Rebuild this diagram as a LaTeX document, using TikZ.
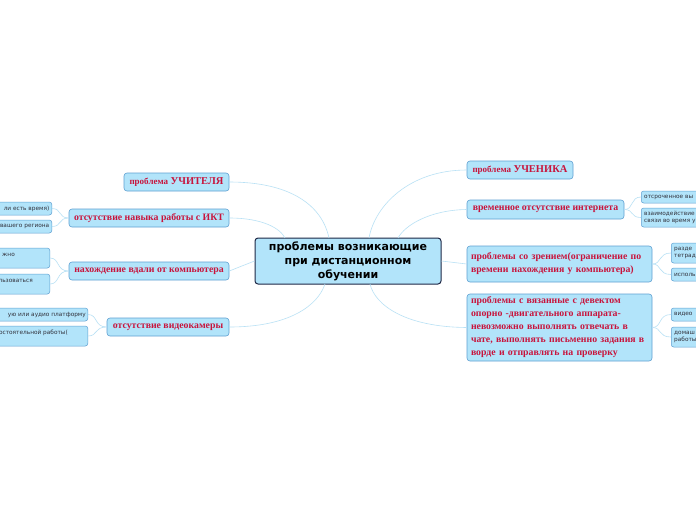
\documentclass[tikz,border=0pt]{standalone}
\usepackage{fontspec}
\setmainfont{Liberation Serif}
\newfontfamily\cfont{DejaVu Sans}
\newfontfamily\sfont{DejaVu Sans}
\definecolor{boxfill}{RGB}{178,228,250}
\definecolor{boxborder}{RGB}{95,160,210}
\definecolor{navy}{RGB}{30,40,70}
\definecolor{crim}{RGB}{200,20,60}
\definecolor{linkblue}{RGB}{185,225,245}
\definecolor{childtxt}{RGB}{50,50,60}
\begin{document}
\begin{tikzpicture}[x=1pt,y=-1pt,
  mainbox/.style={draw=boxborder, fill=boxfill, rounded corners=3pt, line width=0.6pt,
    font=\fontsize{9.8}{13}\selectfont\bfseries, text=crim, inner sep=2pt},
  centerbox/.style={draw=navy, fill=boxfill, rounded corners=3pt, line width=1pt,
    font=\cfont\bfseries\fontsize{11}{14}\selectfont, align=center, text=black,
    minimum width=186pt, minimum height=46pt, inner sep=1pt},
  childbox/.style={draw=boxborder, fill=boxfill, rounded corners=2.5pt, line width=0.5pt, inner sep=0pt},
  childtext/.style={font=\sfont\fontsize{5.8}{7.5}\selectfont, text=childtxt, inner sep=0pt, align=left},
  link/.style={draw=linkblue, line width=0.6pt}]
\useasboundingbox (0,0) rectangle (696,520);
\fill[white] (0,0) rectangle (696,520);
\clip (0,0) rectangle (696,520);

% central
\node[centerbox] (c) at (348,261) {проблемы возникающие\\при дистанционном\\обучении};

% left main nodes
\node[mainbox, minimum width=105pt, minimum height=18pt] (l1) at (176.5,182) {{\fontsize{9}{10}\selectfont проблема} {\fontsize{10.5}{12}\selectfont УЧИТЕЛЯ}};
\node[mainbox, minimum width=160pt, minimum height=18pt] (l2) at (149,218) {отсутствие навыка работы с ИКТ};
\node[mainbox, minimum width=160pt, minimum height=18pt] (l3) at (149,271) {нахождение вдали от компьютера};
\node[mainbox, minimum width=122pt, minimum height=18pt] (l4) at (168,327) {отсутствие видеокамеры};

% right main nodes
\node[mainbox, minimum width=106pt, minimum height=18pt] (r1) at (520,170) {{\fontsize{9}{10}\selectfont проблема} {\fontsize{10.5}{12}\selectfont УЧЕНИКА}};
\node[mainbox, minimum width=157pt, minimum height=19pt] (r2) at (545.5,209.5) {временное отсутствие интернета};
\node[mainbox, minimum width=185pt, minimum height=36pt, text width=177pt, inner xsep=4pt, align=left] (r3) at (559.5,264) {проблемы со зрением(ограничение по\\времени нахождения у компьютера)};
\node[mainbox, minimum width=185pt, minimum height=67pt, text width=177pt, inner xsep=4pt, align=left] (r4) at (559.5,327.5) {проблемы с вязанные с девектом\\опорно -двигательного аппарата-\\невозможно выполнять отвечать в\\чате, выполнять письменно задания в\\ворде и отправлять на проверку};

% central links
\coordinate (ct1) at (329,238);
\coordinate (ct2) at (285,238);
\coordinate (cb1) at (325,284);
\coordinate (ct3) at (369,238);
\coordinate (ct4) at (398,238);
\coordinate (cb2) at (370,284);
\path[link] (l1.east) .. controls (290,182) and (322,205) .. (ct1);
\path[link] (l2.east) .. controls (262,218) and (280,228) .. (ct2);
\path[link] (l3.east) -- (c.west);
\path[link] (l4.east) .. controls (290,327) and (318,305) .. (cb1);
\path[link] (r1.west) .. controls (410,170) and (375,205) .. (ct3);
\path[link] (r2.west) .. controls (430,210) and (405,225) .. (ct4);
\path[link] (r3.west) -- (c.east);
\path[link] (r4.west) .. controls (405,327) and (375,305) .. (cb2);

% left children
\node[childbox, minimum width=90pt, minimum height=13pt, anchor=east] (l2a) at (52,208.5) {};
\node[childtext, anchor=east] (l2at) at (49.5,208.5) {ли есть время)};
\node[childbox, minimum width=90pt, minimum height=13pt, anchor=east] (l2b) at (52,226.5) {};
\node[childtext, anchor=east] (l2bt) at (49.5,226.5) {вашего региона};

\node[childbox, minimum width=90pt, minimum height=20pt, anchor=east] (l3a) at (50,258) {};
\node[childtext, anchor=east] (l3at) at (15,254.5) {жно};
\node[childbox, minimum width=90pt, minimum height=20pt, anchor=east] (l3b) at (50,284) {};
\node[childtext, anchor=east] (l3bt) at (33,280.5) {льзоваться};

\node[childbox, minimum width=120pt, minimum height=13pt, anchor=east] (l4a) at (88,314.5) {};
\node[childtext, anchor=east] (l4at) at (86,314.5) {ую или аудио платформу};
\node[childbox, minimum width=120pt, minimum height=20pt, anchor=east] (l4b) at (88,336) {};
\node[childtext, anchor=east] (l4bt) at (68,332.5) {остоятельной работы(};

% right children
\node[childbox, minimum width=90pt, minimum height=12pt, anchor=west] (r2a) at (641,197) {};
\node[childtext, anchor=west] (r2at) at (644,197) {отсроченное вы};
\node[childbox, minimum width=90pt, minimum height=19pt, anchor=west] (r2b) at (641,217.5) {};
\node[childtext, anchor=west] (r2bt) at (644,217.5) {взаимодействие\\связи во время у};

\node[childbox, minimum width=60pt, minimum height=20pt, anchor=west] (r3a) at (671,253) {};
\node[childtext, anchor=west] (r3at) at (674,253) {разде\\тетрад};
\node[childbox, minimum width=60pt, minimum height=13pt, anchor=west] (r3b) at (671,274.5) {};
\node[childtext, anchor=west] (r3bt) at (674,274.5) {исполь};

\node[childbox, minimum width=60pt, minimum height=13pt, anchor=west] (r4a) at (671,314.5) {};
\node[childtext, anchor=west] (r4at) at (674,314.5) {видео};
\node[childbox, minimum width=60pt, minimum height=20pt, anchor=west] (r4b) at (671,337) {};
\node[childtext, anchor=west] (r4bt) at (674,337) {домаш\\работы};

% child links
\path[link] (l2.west) .. controls (58,218) and (62,208.5) .. (l2a.east);
\path[link] (l2.west) .. controls (58,218) and (62,226.5) .. (l2b.east);
\path[link] (l3.west) .. controls (56,271) and (60,258) .. (l3a.east);
\path[link] (l3.west) .. controls (56,271) and (60,284) .. (l3b.east);
\path[link] (l4.west) .. controls (94,327) and (98,314.5) .. (l4a.east);
\path[link] (l4.west) .. controls (94,327) and (98,336) .. (l4b.east);
\path[link] (r2.east) .. controls (634,209.5) and (630,197) .. (r2a.west);
\path[link] (r2.east) .. controls (634,209.5) and (630,217.5) .. (r2b.west);
\path[link] (r3.east) .. controls (662,264) and (658,253) .. (r3a.west);
\path[link] (r3.east) .. controls (662,264) and (658,274.5) .. (r3b.west);
\path[link] (r4.east) .. controls (662,327.5) and (658,314.5) .. (r4a.west);
\path[link] (r4.east) .. controls (662,327.5) and (658,337) .. (r4b.west);
\end{tikzpicture}
\end{document}
